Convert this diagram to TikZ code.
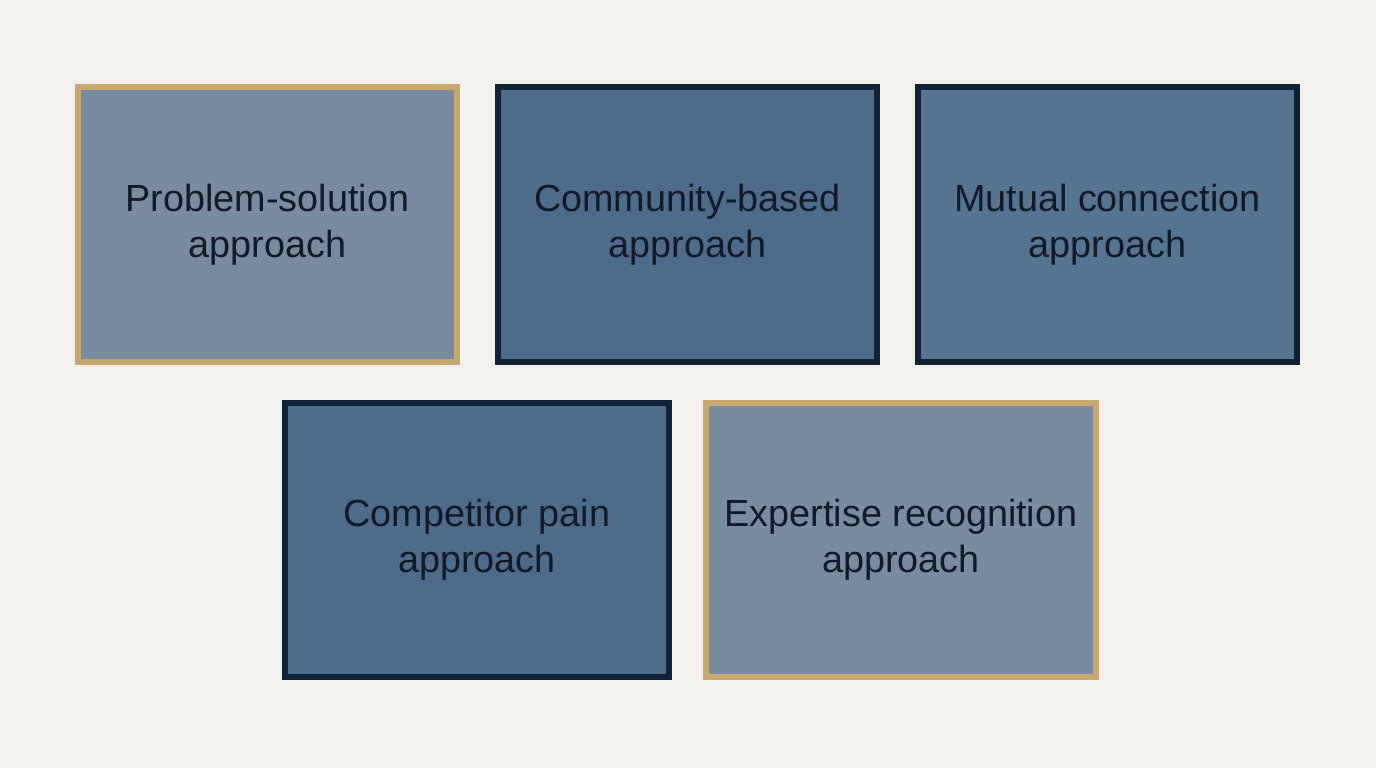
\documentclass[tikz,border=0pt]{standalone}
\usepackage{fontspec}
\setmainfont{Liberation Sans}
\definecolor{bgcol}{HTML}{F2F1ED}
\definecolor{goldcol}{HTML}{C8A870}
\definecolor{navycol}{HTML}{0F2236}
\definecolor{palecol}{HTML}{788CA0}
\definecolor{deepcol}{HTML}{4E6B89}
\definecolor{midcol}{HTML}{56738F}
\definecolor{inkcol}{HTML}{111A26}
\begin{document}
\begin{tikzpicture}[x=0.02cm,y=-0.02cm]
  % Styles
  \tikzset{
    card/.style={draw,line width=0.12cm,minimum width=7.58cm,minimum height=5.5cm,
      align=center,text=inkcol,font=\fontsize{21.5}{26}\selectfont,inner sep=0pt},
    gold card/.style={card,draw=goldcol,fill=palecol},
    navy card/.style={card,draw=navycol}
  }
  \fill[bgcol] (0,0) rectangle (1376,768);
  \useasboundingbox (0,0) rectangle (1376,768);

  % Top row
  \node[gold card] (problem) at (267.5,224.5) {Problem-solution\\approach};
  \node[navy card,fill=deepcol] (community) at (687.5,224.5) {Community-based\\approach};
  \node[navy card,fill=midcol] (mutual) at (1107.5,224.5) {Mutual connection\\approach};

  % Bottom row
  \node[navy card,fill=deepcol,minimum width=7.68cm] (competitor) at (477,540) {Competitor pain\\approach};
  \node[gold card,minimum width=7.8cm] (expertise) at (901,540) {Expertise recognition\\approach};
\end{tikzpicture}
\end{document}
